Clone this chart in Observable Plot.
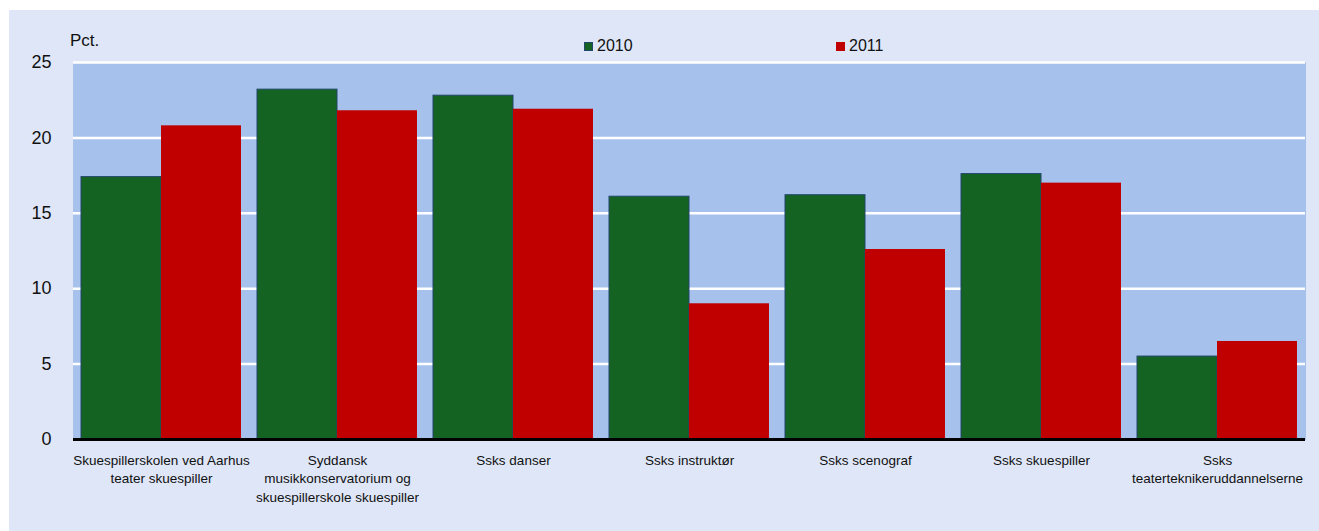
<!DOCTYPE html>
<html><head><meta charset="utf-8">
<script src="https://cdn.jsdelivr.net/npm/d3@7"></script>
<script src="https://cdn.jsdelivr.net/npm/@observablehq/plot@0.6"></script>
<style>
body{margin:0;background:#fff;width:1319px;height:531px;overflow:hidden;}
#panel{position:absolute;left:9px;top:10px;width:1310px;height:521px;background:#dee6f7;font-family:"Liberation Sans",Arial,sans-serif;}
#chart{position:absolute;left:0;top:0;}
.unit{position:absolute;left:61px;top:21px;font-size:17px;line-height:20px;color:#111;}
.leg{position:absolute;top:26px;font-size:16px;line-height:20px;color:#111;display:flex;align-items:center;}
.leg i{display:inline-block;width:9px;height:9px;margin-right:4px;}
</style></head><body>
<div id="panel">
  <div id="chart"></div>
  <div class="unit">Pct.</div>
  <div class="leg" style="left:575px"><i style="background:#146323;outline:1px solid #23466b;outline-offset:-1px"></i>2010</div>
  <div class="leg" style="left:827px"><i style="background:#c00000"></i>2011</div>
</div>
<script>
const categories = [
  "Skuespillerskolen ved Aarhus teater skuespiller",
  "Syddansk musikkonservatorium og skuespillerskole skuespiller",
  "Ssks danser",
  "Ssks instruktør",
  "Ssks scenograf",
  "Ssks skuespiller",
  "Ssks teaterteknikeruddannelserne"
];
const tickLabels = [
  "Skuespillerskolen ved Aarhus\nteater skuespiller",
  "Syddansk\nmusikkonservatorium og\nskuespillerskole skuespiller",
  "Ssks danser",
  "Ssks instruktør",
  "Ssks scenograf",
  "Ssks skuespiller",
  "Ssks\nteaterteknikeruddannelserne"
];
const years = ["2010", "2011"];
const values2010 = [17.4, 23.2, 22.8, 16.1, 16.2, 17.6, 5.5];
const values2011 = [20.8, 21.8, 21.9, 9.0, 12.6, 17.0, 6.5];
const yTicks = [0, 5, 10, 15, 20, 25];
const colors = ["#146323", "#c00000"];

const data = categories.flatMap((c, i) => [
  {category: c, year: years[0], value: values2010[i]},
  {category: c, year: years[1], value: values2011[i]}
]);
const labelOf = new Map(categories.map((c, i) => [c, tickLabels[i]]));

const chart = Plot.plot({
  width: 1310,
  height: 521,
  marginLeft: 62,
  marginRight: 12,
  marginTop: 52,
  marginBottom: 92,
  style: {background: "transparent", fontFamily: "Liberation Sans, Arial, sans-serif", color: "#111"},
  fx: {domain: categories, padding: 0, label: null, axis: null},
  x: {domain: years, paddingInner: 0, paddingOuter: 0.096, axis: null},
  y: {domain: [0, 25], label: null},
  color: {domain: years, range: colors},
  marks: [
    Plot.frame({fill: "#a6c2ec", stroke: "#a6c2ec", strokeWidth: 1}),
    Plot.gridY(yTicks.filter(d => d > 0), {stroke: "#ffffff", strokeOpacity: 1, strokeWidth: 2.5}),
    Plot.barY(data.filter(d => d.year === years[0]), {fx: "category", x: "year", y: "value", fill: "year", stroke: "#23466b", strokeWidth: 1}),
    Plot.barY(data.filter(d => d.year === years[1]), {fx: "category", x: "year", y: "value", fill: "year"}),
    Plot.ruleY([0], {stroke: "#000", strokeWidth: 3}),
    Plot.axisY(yTicks, {tickSize: 0, tickPadding: 22, fontSize: 18, label: null}),
    Plot.axisFx({anchor: "bottom", tickSize: 0, tickPadding: 12, fontSize: 13.5, lineHeight: 1.38, label: null,
      tickFormat: d => labelOf.get(d)})
  ]
});
document.getElementById("chart").appendChild(chart);
</script>
</body></html>
